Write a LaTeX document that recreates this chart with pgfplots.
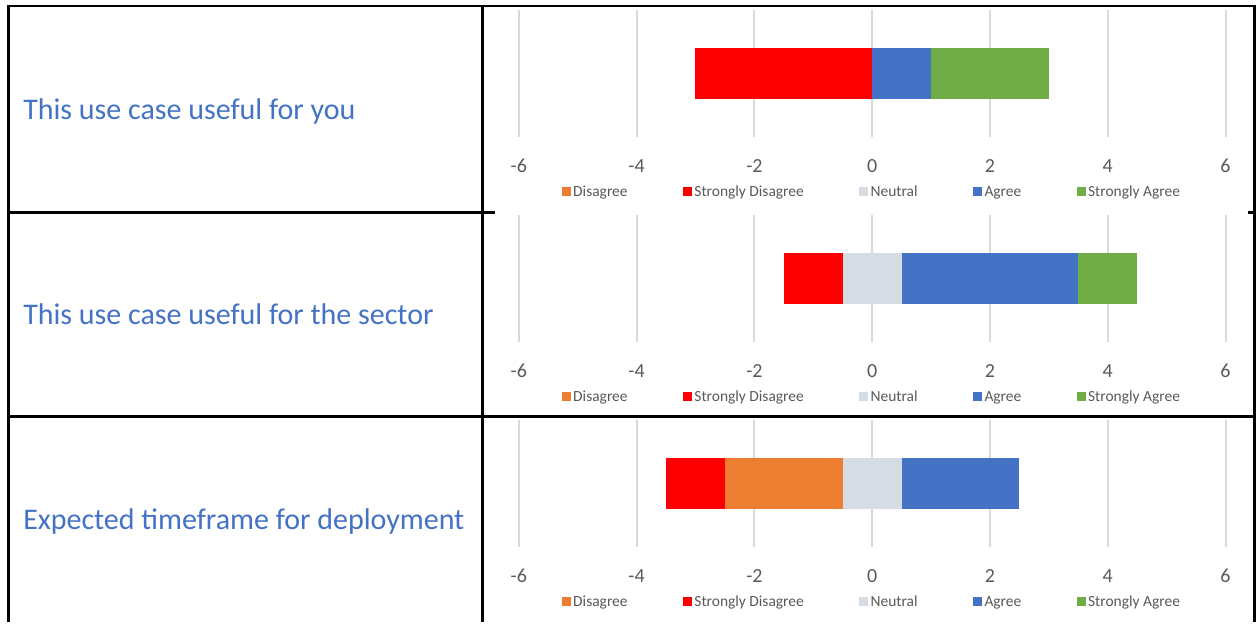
\documentclass[border=0pt]{standalone}
\usepackage{pgfplots}
\pgfplotsset{compat=1.18}
\usepackage{fontspec}
\setmainfont{Carlito}
\definecolor{cDis}{HTML}{ED7D31}
\definecolor{cSD}{HTML}{FF0000}
\definecolor{cNeu}{HTML}{D6DCE4}
\definecolor{cAg}{HTML}{4472C4}
\definecolor{cSA}{HTML}{70AD47}
\definecolor{cGrid}{HTML}{D9D9D9}
\definecolor{cTick}{HTML}{595959}
\definecolor{cLab}{HTML}{4472C4}

\pgfplotsset{
 sq/.style={legend image code/.code={\fill[#1] (0pt,-1.4pt) rectangle (6.25pt,4.85pt);}},
 likert/.style={
 scale only axis, width=530.25pt, height=95.25pt,
 xmin=-6,xmax=6,ymin=-1,ymax=1,
 xbar stacked, stack negative=on previous, bar width=38.25pt,
 axis line style={draw=none},
 ytick=\empty,
 xtick={-6,-4,-2,0,2,4,6},
 xticklabels={-6,-4,-2,0,2,4,6},
 major tick length=0pt,
 xmajorgrids, grid style={cGrid, line width=1.5pt},
 xticklabel style={font=\fontsize{15}{18}\selectfont, text=cTick, anchor=center, yshift=-21.75pt},
 legend columns=5,
 legend style={at={(0.5,-0.445)}, anchor=center, draw=none, fill=none,
   font=\fontsize{11.6}{14}\selectfont, text=cTick,
   nodes={text height=0.68em, text depth=0.22em},
   /tikz/every even column/.append style={column sep=39.5pt}},
 }}

% #1 = bottom of axis (px from top), #2 offset, #3 Strongly Disagree, #4 Disagree, #5 Neutral, #6 Agree, #7 Strongly Agree
\newcommand\likertrow[7]{%
\begin{axis}[likert, at={(519*0.75pt,-#1*0.75pt)}, anchor=south west]
\addplot[draw=none,fill=none,forget plot] coordinates {(#2,0)};
\addplot[draw=none,fill=cSD,forget plot] coordinates {(#3,0)};
\addplot[draw=none,fill=cDis,forget plot] coordinates {(#4,0)};
\addplot[draw=none,fill=cNeu,forget plot] coordinates {(#5,0)};
\addplot[draw=none,fill=cAg,forget plot] coordinates {(#6,0)};
\addplot[draw=none,fill=cSA,forget plot] coordinates {(#7,0)};
\addlegendimage{sq=cDis}\addlegendentry{Disagree}
\addlegendimage{sq=cSD}\addlegendentry{Strongly Disagree}
\addlegendimage{sq=cNeu}\addlegendentry{Neutral}
\addlegendimage{sq=cAg}\addlegendentry{Agree}
\addlegendimage{sq=cSA}\addlegendentry{Strongly Agree}
\end{axis}}

\begin{document}
\begin{tikzpicture}
\begin{scope}[x=0.75pt,y=-0.75pt]
\path (0,0) rectangle (1257,622);
\end{scope}

\likertrow{137}{-3}{3}{0}{0}{1}{2}
\likertrow{342}{-1.5}{1}{0}{1}{3}{1}
\likertrow{547}{-3.5}{1}{2}{1}{2}{0}

\begin{scope}[x=0.75pt,y=-0.75pt]
\begin{scope}[line width=2.25pt, black]
\draw (7,6) -- (1256,6);
\draw (8.5,6) -- (8.5,622);
\draw (1254.5,6) -- (1254.5,622);
\draw (482.5,6) -- (482.5,622);
\draw (8.5,213) -- (495,213);
\draw (1248,213) -- (1254.5,213);
\draw (8.5,416.5) -- (1254.5,416.5);
\end{scope}
\begin{scope}[font=\fontsize{22.5}{27}\selectfont, text=cLab, inner sep=0pt]
\node[anchor=base west] at (23,120) {This use case useful for you};
\node[anchor=base west] at (23,325) {This use case useful for the sector};
\node[anchor=base west] at (23,530) {Expected timeframe for deployment};
\end{scope}
\end{scope}
\end{tikzpicture}
\end{document}
